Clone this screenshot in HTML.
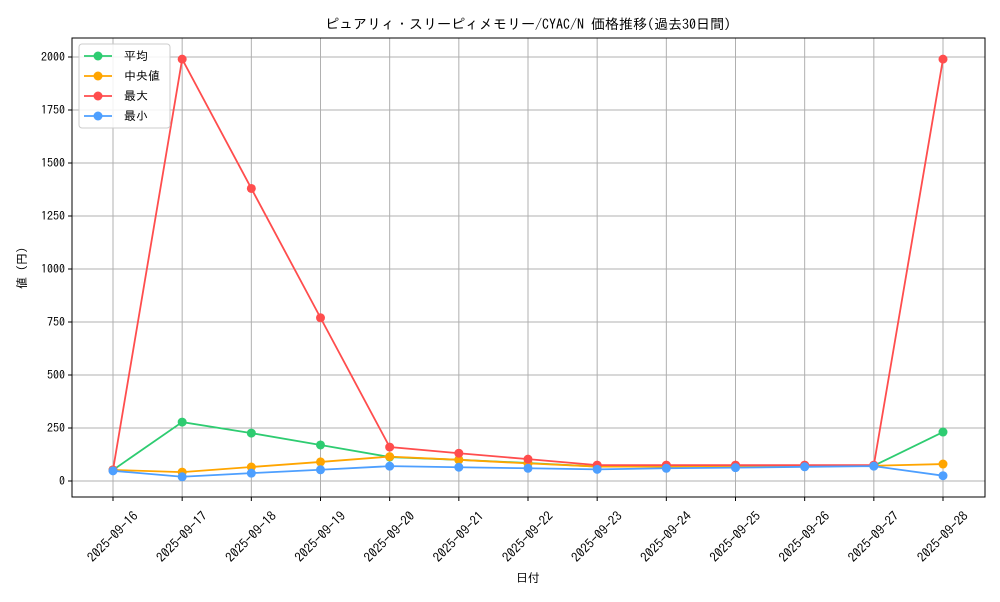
<!DOCTYPE html>
<html><head><meta charset="utf-8"><style>
body{margin:0;background:#fff;font-family:"IPAGothic","Noto Sans CJK JP",sans-serif}
svg text{font-family:"IPAGothic","Noto Sans CJK JP",sans-serif;font-size:12px;fill:#000}
</style></head><body>
<svg id="chart" width="1000" height="600" xmlns="http://www.w3.org/2000/svg"></svg>
<script>
const dates=["2025-09-16","2025-09-17","2025-09-18","2025-09-19","2025-09-20","2025-09-21","2025-09-22","2025-09-23","2025-09-24","2025-09-25","2025-09-26","2025-09-27","2025-09-28"];
const meanVals=[52,278,226,170,113,100,85,68,70,70,72,72,231];
const medianVals=[52,42,66,90,115,100,83,68,68,70,70,72,80];
const maxVals=[52,1990,1380,770,160,131,103,75,75,75,75,75,1990];
const minVals=[48,20,37,53,70,65,60,55,60,63,67,70,25];
const yTicks=[0,250,500,750,1000,1250,1500,1750,2000];
const seriesNames=["平均","中央値","最大","最小"];
const L=72,R=985,T=38,B=497;
const x=i=>113+i*(943-113)/(dates.length-1);
const y=v=>481-v*(481-57)/2000;
const svg=document.getElementById('chart');
const NS="http://www.w3.org/2000/svg";
function mk(tag,attrs,parent){const e=document.createElementNS(NS,tag);for(const k in attrs)e.setAttribute(k,attrs[k]);(parent||svg).appendChild(e);return e;}
yTicks.forEach(t=>{
 const g=mk('line',{x1:L,x2:R,y1:y(t),y2:y(t),stroke:'#b0b0b0','stroke-width':1});
 
 
 mk('line',{x1:L-4,x2:L,y1:y(t),y2:y(t),stroke:'#000'});
 const tx=mk('text',{x:L-7,y:y(t)+4,'text-anchor':'end'});tx.textContent=t;
 
 
});
dates.forEach((d,i)=>{
 const g=mk('line',{x1:x(i),x2:x(i),y1:T,y2:B,stroke:'#b0b0b0','stroke-width':1});
 
 
 mk('line',{x1:x(i),x2:x(i),y1:B,y2:B+4,stroke:'#000'});
 const cy=B+40;
 const tx=mk('text',{x:x(i),y:cy+4,'text-anchor':'middle',transform:`rotate(-45 ${x(i)} ${cy})`});tx.textContent=d;
 tx.style.fontSize='13px';
 
 
});
const frame=mk('rect',{x:L,y:T,width:R-L,height:B-T,fill:'none',stroke:'#000','stroke-width':1});


const colors=["#2ecc71","#ffa500","#ff4d4d","#4d9fff"];
const all=[meanVals,medianVals,maxVals,minVals];
const snames=['mean','median','max','min'];
all.forEach((vals,s)=>{
 const p=mk('polyline',{points:vals.map((v,i)=>x(i)+','+y(v)).join(' '),fill:'none',stroke:colors[s],'stroke-width':1.8});
 
 
 vals.forEach((v,i)=>{const c=mk('circle',{cx:x(i),cy:y(v),r:4.5,fill:colors[s]});
 
 });
});
const lg=mk('g',{});


mk('rect',{x:79,y:44,width:91,height:84,rx:3,fill:'#fff','fill-opacity':0.85,stroke:'#ccc'},lg);
seriesNames.forEach((n,s)=>{
 const yy=56+s*20;
 const e=mk('g',{},lg);
 
 
 mk('line',{x1:84,x2:112,y1:yy,y2:yy,stroke:colors[s],'stroke-width':1.8},e);
 mk('circle',{cx:98,cy:yy,r:4.5,fill:colors[s]},e);
 const t=mk('text',{x:124,y:yy+4},e);t.textContent=n;
});
const title=mk('text',{x:528,y:29,'text-anchor':'middle'});
title.style.fontSize='14px';
title.textContent='ピュアリィ・スリーピィメモリー/CYAC/N 価格推移(過去30日間)';


const xt=mk('text',{x:528,y:582,'text-anchor':'middle'});xt.textContent='日付';


const yt=mk('text',{x:26,y:268,'text-anchor':'middle',transform:'rotate(-90 26 268)'});yt.textContent='値 (円)';


</script>
</body></html>
